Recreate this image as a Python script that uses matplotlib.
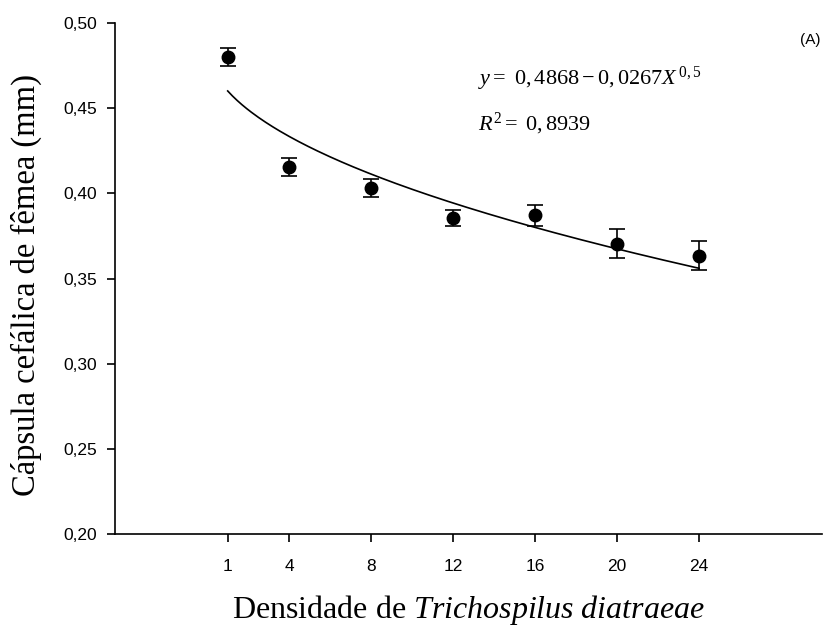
import matplotlib
matplotlib.use('Agg')
import matplotlib.pyplot as plt
import numpy as np
from matplotlib.ticker import FuncFormatter

# densidade de parasitoides e capsula cefalica media (mm) com erro padrao
densidade = [1, 4, 8, 12, 16, 20, 24]
capsula = [0.480, 0.4155, 0.403, 0.3856, 0.387, 0.3703, 0.3633]
erro = [0.0054, 0.0053, 0.0052, 0.0047, 0.0062, 0.0085, 0.0085]

# coeficientes do modelo ajustado y = a - b * x^0.5
a = 0.4868
b = 0.0267
r2 = 0.8939

plt.rcParams['mathtext.fontset'] = 'custom'
plt.rcParams['mathtext.rm'] = 'Liberation Serif'
plt.rcParams['mathtext.it'] = 'Liberation Serif:italic'

fig = plt.figure(figsize=(8.25, 6.28), dpi=100)
ax = fig.add_axes([115 / 825, 1 - 534 / 628, (822 - 115) / 825, (534 - 23) / 628])

xs = np.linspace(1, 24, 200)
ax.plot(xs, a - b * np.sqrt(xs), color='black', lw=1.2)

ax.errorbar(densidade, capsula, yerr=erro, fmt='o', color='black',
            markersize=9, capsize=5.5, elinewidth=1.2, capthick=1.2)

ax.set_xlim(-4.5, 30)
ax.set_ylim(0.20, 0.50)
ax.set_xticks(densidade)
ax.set_yticks(np.arange(0.20, 0.501, 0.05))
ax.yaxis.set_major_formatter(FuncFormatter(lambda v, p: f'{v:.2f}'.replace('.', ',')))

for s in ['top', 'right']:
    ax.spines[s].set_visible(False)
for s in ['left', 'bottom']:
    ax.spines[s].set_linewidth(1.2)

ax.tick_params(direction='out', length=6, width=1.2, labelsize=12.5)
ax.tick_params(axis='x', pad=12)
ax.tick_params(axis='y', pad=7)
for lab in ax.get_xticklabels() + ax.get_yticklabels():
    lab.set_fontfamily('Liberation Sans')

ax.set_xlabel('Densidade de $\\mathit{Trichospilus\\ diatraeae}$',
              fontfamily='Liberation Serif', fontsize=23, labelpad=14)
ax.set_ylabel('Cápsula cefálica de fêmea (mm)',
              fontfamily='Liberation Serif', fontsize=23.5)
ax.yaxis.set_label_coords(-0.103, 0.488)

ax.text(13.2, 0.4636, '$y = \\ 0,4868 - 0,0267X^{\\,0,5}$', fontsize=16,
        va='baseline', ha='left')
ax.text(13.2, 0.4372, f'$R^{{2}} = \\ {r2:.4f}$'.replace('.', ','), fontsize=16,
        va='baseline', ha='left')

fig.text(810 / 825, 1 - 40 / 628, '(A)', fontfamily='Liberation Sans',
         fontsize=11, ha='center', va='center')

fig.savefig('out.png', dpi=100)
